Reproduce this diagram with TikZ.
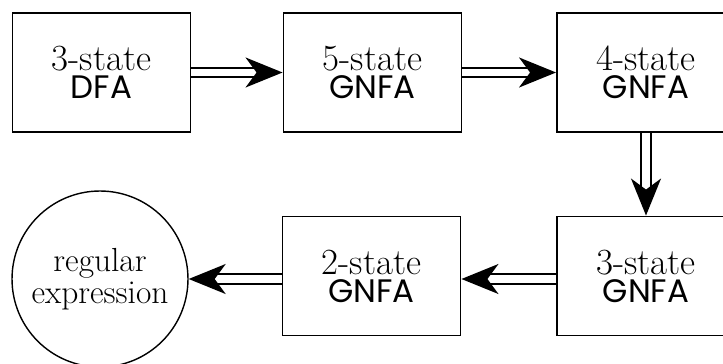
\documentclass[tikz,border=0pt]{standalone}
\usepackage{fontspec}
\newfontfamily\autfont{Poppins}
\usepackage{tikz}
\usetikzlibrary{arrows.meta,positioning}

\begin{document}
\begin{tikzpicture}[x=0.02cm, y=-0.02cm, every node/.style={font=\fontsize{21}{16}\selectfont, align=center}]
\tikzset{stage/.style={draw, line width=1.1pt, minimum width=3.56cm, minimum height=2.38cm, inner sep=0pt},
  conv/.style={double, line width=1.1pt, double distance=0.15cm, -{Stealth[length=0.74cm, width=0.6cm, inset=0.22cm]}}}
\newcommand{\aut}[1]{\autfont\fontsize{18.5}{16}\selectfont #1}
\useasboundingbox (0,0) rectangle (723,364);
\node[stage] (dfa) at (101.5,72.5) {3-state\\\aut{DFA}};
\node[stage] (g5) at (372.5,72.5) {5-state\\\aut{GNFA}};
\node[stage] (g4) at (646,72.5) {4-state\\\aut{GNFA}};
\node[stage] (g3) at (646,276) {3-state\\\aut{GNFA}};
\node[stage] (g2) at (371.5,276) {2-state\\\aut{GNFA}};
\node[draw, circle, line width=0.8pt, minimum size=3.52cm, inner sep=0pt, font=\fontsize{19}{18.5}\selectfont] (re) at (100,279) {regular\\expression};
\draw[conv] (dfa) -- (g5);
\draw[conv] (g5) -- (g4);
\draw[conv] (g4) -- (g3);
\draw[conv] (g3.west |- re) -- (g2.east |- re);
\draw[conv] (g2.west |- re) -- (re);
\end{tikzpicture}
\end{document}
